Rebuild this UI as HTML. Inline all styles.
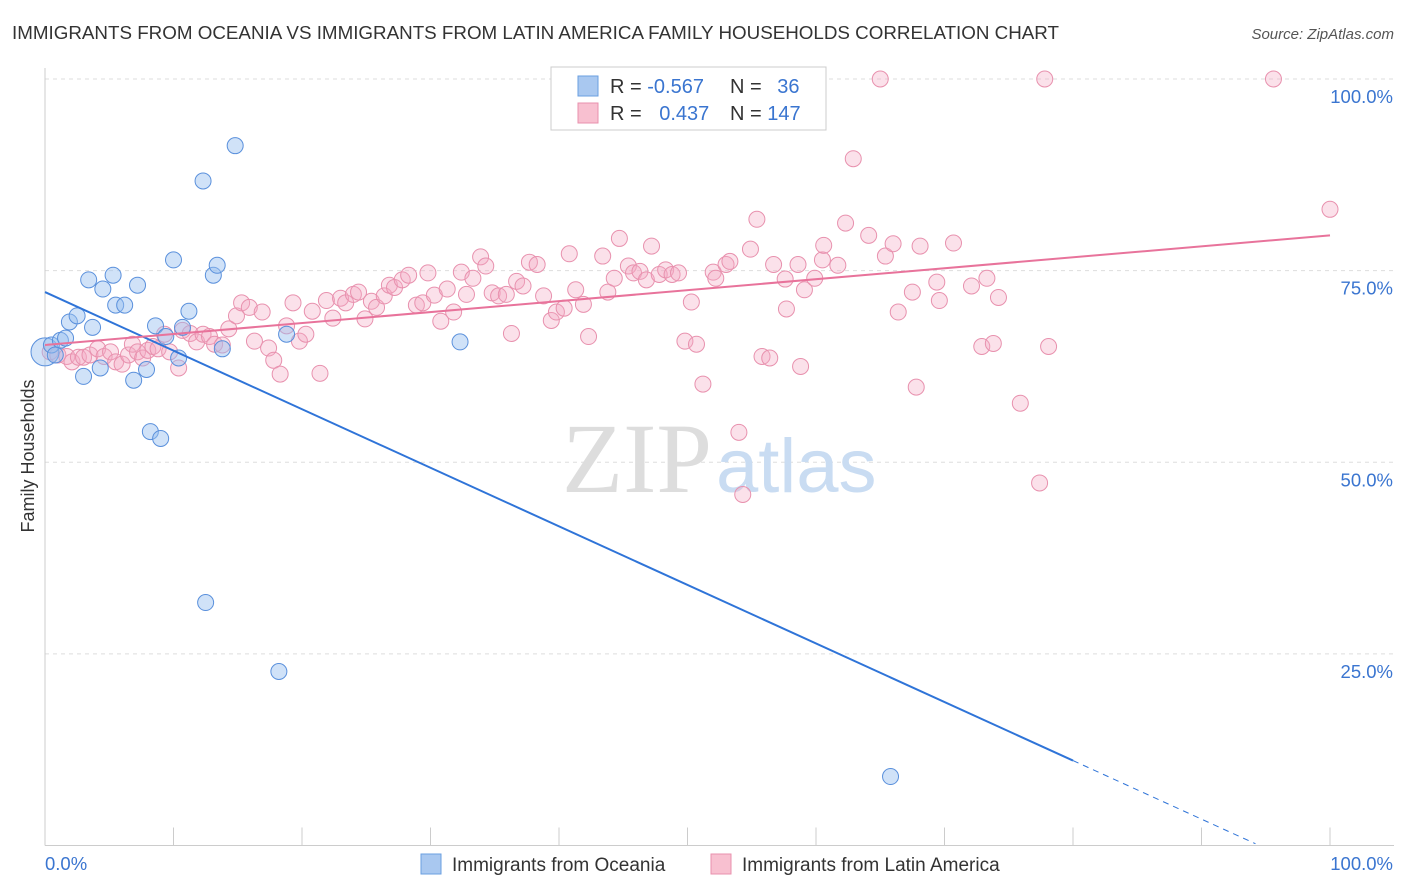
<!DOCTYPE html>
<html><head><meta charset="utf-8"><style>
body{margin:0;background:#fff;font-family:"Liberation Sans",sans-serif;}
svg{display:block}
</style></head><body>
<svg width="1406" height="892" viewBox="0 0 1406 892">
<text x="12" y="39" font-size="18.8" fill="#333">IMMIGRANTS FROM OCEANIA VS IMMIGRANTS FROM LATIN AMERICA FAMILY HOUSEHOLDS CORRELATION CHART</text>
<text x="1394" y="39" font-size="15" fill="#555" font-style="italic" text-anchor="end">Source: ZipAtlas.com</text>
<g id="grid"></g>
<g id="axes"></g>
<text x="712" y="492" font-size="100" fill="#ddd" text-anchor="end" font-family="Liberation Serif">ZIP</text>
<text x="716" y="492" font-size="76" fill="#c9dcf2">atlas</text>
<g id="pink"></g>
<g id="blue"></g>
<g id="lines"></g>
<text x="34" y="456" font-size="18" fill="#333" text-anchor="middle" transform="rotate(-90 34 456)">Family Households</text>
<g>
<rect x="551" y="67" width="275" height="63" fill="#fff" stroke="#ccc"/>
<rect x="578" y="76" width="20" height="20" fill="#a9c8f0" stroke="#6a9fe0"/>
<rect x="578" y="103" width="20" height="20" fill="#f8c0d0" stroke="#e891ae"/>
<text x="610" y="93" font-size="20" fill="#333">R = <tspan fill="#3a75d0">-0.567</tspan></text>
<text x="730" y="93" font-size="20" fill="#333">N = <tspan fill="#3a75d0" dx="10">36</tspan></text>
<text x="610" y="120" font-size="20" fill="#333">R = <tspan fill="#3a75d0" dx="12">0.437</tspan></text>
<text x="730" y="120" font-size="20" fill="#333">N = <tspan fill="#3a75d0">147</tspan></text>
</g>
<g>
<rect x="421" y="854" width="20" height="20" fill="#a9c8f0" stroke="#6a9fe0"/>
<text x="452" y="871" font-size="19" fill="#333">Immigrants from Oceania</text>
<rect x="711" y="854" width="20" height="20" fill="#f8c0d0" stroke="#e891ae"/>
<text x="742" y="871" font-size="19" fill="#333">Immigrants from Latin America</text>
</g>
</svg>
<script>
const blueX=[0,0.5,1.2,0.8,1.9,2.5,1.6,3.0,3.4,3.7,4.3,4.5,5.3,5.5,6.2,7.2,6.9,7.9,8.2,8.6,9.0,9.4,10.0,10.4,10.7,11.2,12.3,13.1,13.4,13.8,14.8,12.5,18.2,18.8,32.3,65.8];
const blueY=[64.4,65.3,65.9,64.0,68.3,69.1,66.2,61.2,73.8,67.6,62.3,72.6,74.4,70.5,70.5,73.1,60.7,62.1,54.0,67.8,53.1,66.4,76.4,63.6,67.6,69.7,86.7,74.4,75.7,64.8,91.3,31.7,22.7,66.7,65.7,9.0];
const pinkX=[0.4,1.0,1.7,2.1,2.6,3.0,3.5,4.1,4.6,5.1,5.5,6.0,6.5,6.8,7.2,7.6,8.0,8.4,8.8,9.3,9.7,10.4,10.7,11.3,11.8,12.3,12.8,13.2,13.8,14.3,14.9,15.3,15.9,16.3,16.9,17.4,17.8,18.3,18.8,19.3,19.8,20.3,20.8,21.4,21.9,22.4,23.0,23.4,24.0,24.4,24.9,25.4,25.8,26.4,26.8,27.2,27.8,28.3,28.9,29.4,29.8,30.3,30.8,31.3,31.8,32.4,32.8,33.3,33.9,34.3,34.8,35.3,35.9,36.3,36.7,37.2,37.7,38.3,38.8,39.4,39.8,40.4,40.8,41.3,41.9,42.3,43.4,43.8,44.3,44.7,45.4,45.8,46.3,46.8,47.2,47.8,48.3,48.8,49.3,49.8,50.3,50.7,51.2,52.0,52.2,53.0,53.3,54.0,54.3,54.9,55.4,55.8,56.4,56.7,57.6,57.7,58.6,58.8,59.1,59.9,60.5,60.6,61.7,62.3,62.9,64.1,65.0,65.4,66.0,66.4,67.5,67.8,68.1,69.4,69.6,70.7,72.1,72.9,73.3,73.8,74.2,75.9,77.4,77.8,78.1,95.6,100];
const pinkY=[64.4,64.0,63.8,63.1,63.7,63.7,64.0,64.8,63.8,64.4,63.1,62.8,64.0,65.4,64.4,63.6,64.6,65.1,64.8,66.7,64.4,62.3,67.2,66.8,65.7,66.7,66.4,65.4,65.3,67.4,69.1,70.8,70.2,65.8,69.6,64.9,63.3,61.5,67.8,70.8,65.8,66.7,69.7,61.6,71.1,68.8,71.4,70.8,71.9,72.2,68.7,71.0,70.2,71.7,73.1,72.8,73.8,74.4,70.5,70.8,74.7,71.8,68.4,72.6,69.6,74.8,71.9,74.0,76.8,75.6,72.1,71.7,71.9,66.8,73.6,73.0,76.1,75.8,71.7,68.5,69.6,70.1,77.2,72.5,70.6,66.4,76.9,72.2,74.0,79.2,75.6,74.7,74.9,73.8,78.2,74.5,75.1,74.5,74.7,65.8,70.9,65.4,60.2,74.8,74.0,75.8,76.2,53.9,45.8,77.8,81.7,63.8,63.6,75.8,73.9,70.0,75.8,62.5,72.5,74.0,76.4,78.3,75.7,81.2,89.6,79.6,100,76.9,78.5,69.6,72.2,59.8,78.2,73.5,71.1,78.6,73.0,65.1,74.0,65.5,71.5,57.7,47.3,100,65.1,100,83.0];
const blueTrend=[72.2,-0.764];
const pinkTrend=[65.3,0.143];
const yTicks=[25,50,75,100];
const yTickLabels=["25.0%","50.0%","75.0%","100.0%"];
const X0=45,X1=1330,Y0=845.5,Y100=79;
const sx=v=>X0+(X1-X0)*v/100;
const sy=v=>Y0-(Y0-Y100)*v/100;
const NS="http://www.w3.org/2000/svg";
function mk(tag,attrs,parent){const e=document.createElementNS(NS,tag);for(const k in attrs)e.setAttribute(k,attrs[k]);parent.appendChild(e);return e;}
const grid=document.getElementById('grid'),axes=document.getElementById('axes');
yTicks.forEach((t,i)=>{
 const l=mk('line',{x1:X0,x2:1394,y1:sy(t),y2:sy(t),stroke:'#ddd','stroke-dasharray':'4 4'},grid);
 
 
 const tx=mk('text',{x:1393,y:sy(t)+24,'font-size':18.5,fill:'#3a75d0','text-anchor':'end'},axes);
 tx.textContent=yTickLabels[i];
 
 
});
mk('line',{x1:X0,x2:X0,y1:68,y2:Y0,stroke:'#ccc'},axes);
mk('line',{x1:X0,x2:1394,y1:Y0,y2:Y0,stroke:'#ccc'},axes);
for(let i=0;i<=10;i++){const t=mk('line',{x1:sx(i*10),x2:sx(i*10),y1:Y0,y2:Y0-18,stroke:'#ccc'},axes);
 
 }
const xl=mk('text',{x:45,y:870,'font-size':18.5,fill:'#3a75d0'},axes);xl.textContent='0.0%';


const xr=mk('text',{x:1393,y:870,'font-size':18.5,fill:'#3a75d0','text-anchor':'end'},axes);xr.textContent='100.0%';


const pg=document.getElementById('pink');
pinkX.forEach((x,i)=>{const c=mk('circle',{cx:sx(x),cy:sy(pinkY[i]),r:8,fill:'rgba(244,170,195,0.35)',stroke:'#e891ae','stroke-width':1},pg);
 
 });
const bg=document.getElementById('blue');
blueX.forEach((x,i)=>{const c=mk('circle',{cx:sx(x),cy:sy(blueY[i]),r:i===0?14:8,fill:'rgba(150,190,240,0.45)',stroke:'#5a90dc','stroke-width':1},bg);
 
 });
const lg=document.getElementById('lines');
const bl=mk('line',{x1:sx(0),y1:sy(blueTrend[0]),x2:sx(80),y2:sy(blueTrend[0]+blueTrend[1]*80),stroke:'#2f74d8','stroke-width':2},lg);


const bd=mk('line',{x1:sx(80),y1:sy(blueTrend[0]+blueTrend[1]*80),x2:sx(94.2),y2:sy(blueTrend[0]+blueTrend[1]*94.2),stroke:'#2f74d8','stroke-width':1,'stroke-dasharray':'6 5'},lg);


const pl=mk('line',{x1:sx(0),y1:sy(pinkTrend[0]),x2:sx(100),y2:sy(pinkTrend[0]+pinkTrend[1]*100),stroke:'#e8739b','stroke-width':2},lg);


</script>
</body></html>
